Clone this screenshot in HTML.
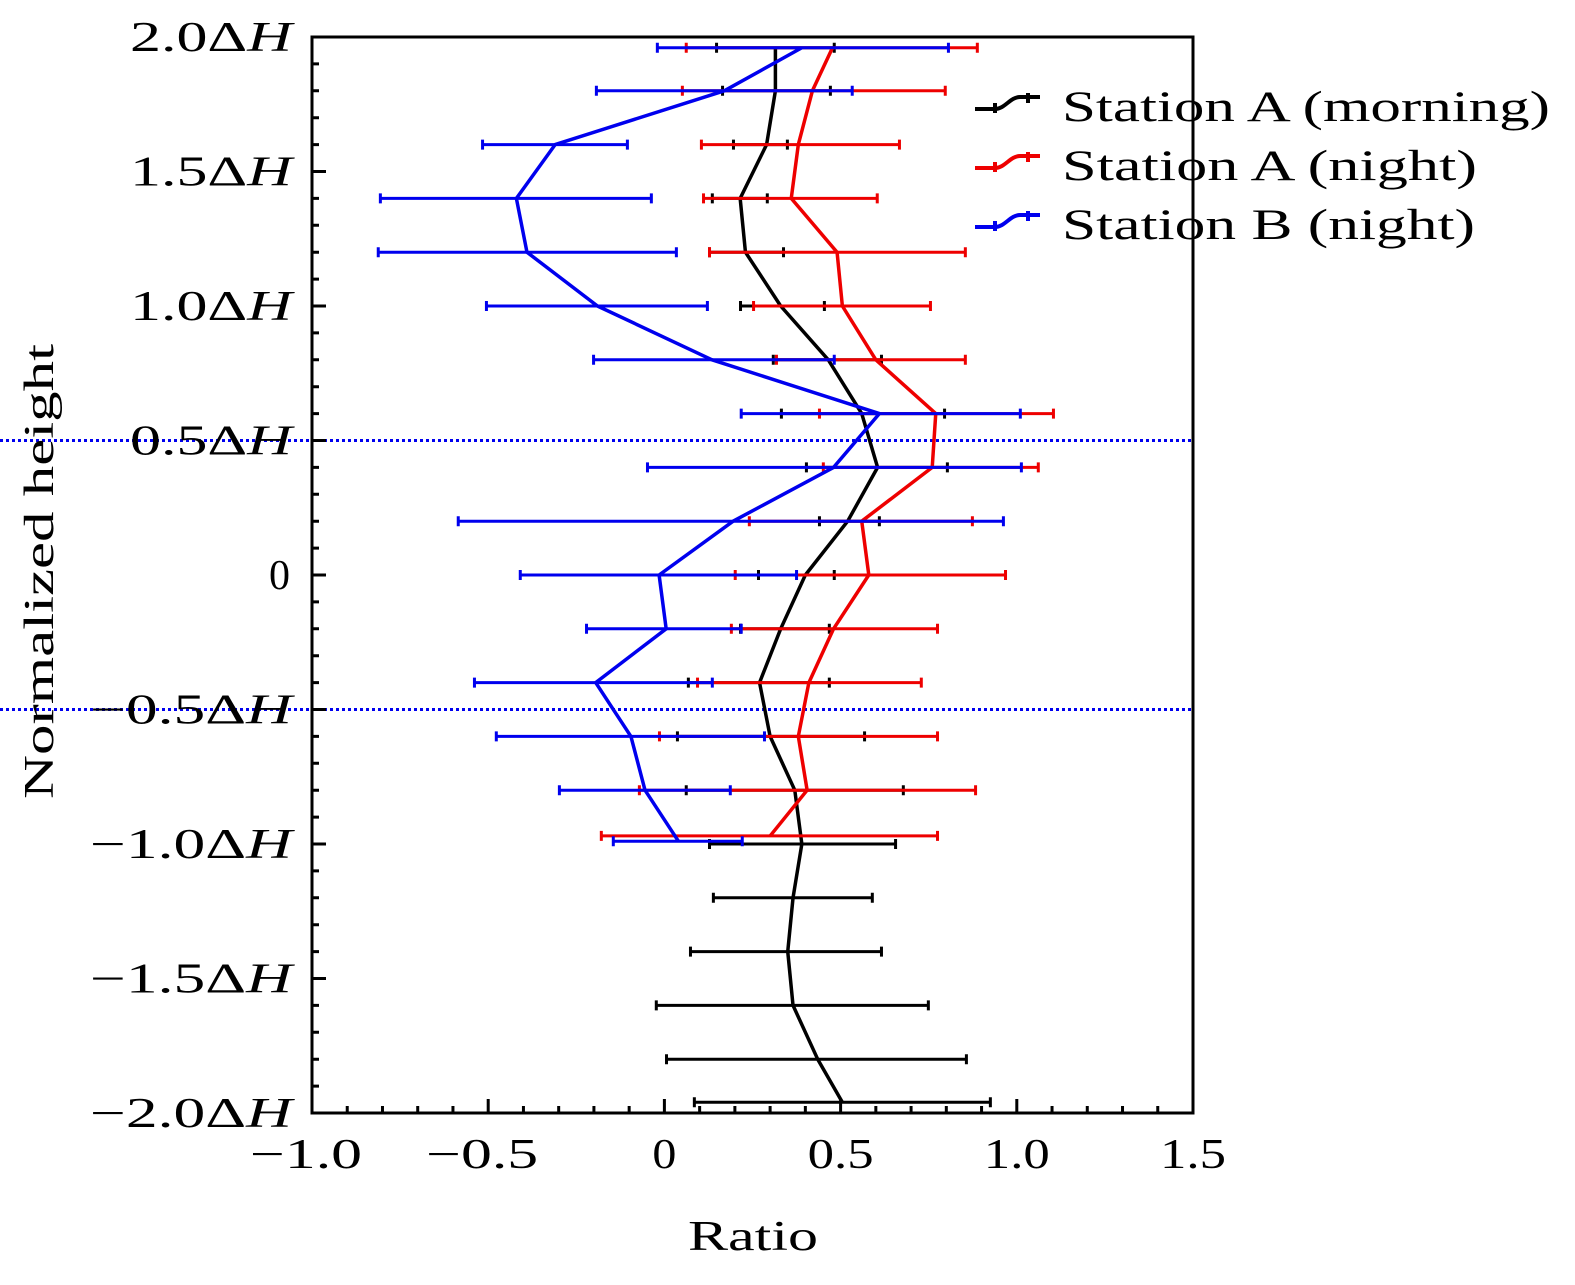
<!DOCTYPE html>
<html><head><meta charset="utf-8"><style>
body{margin:0;background:#fff}
svg text{font-family:"Liberation Serif",serif;}
</style></head><body>
<svg id="chart" width="1575" height="1280" viewBox="0 0 1575 1280" xmlns="http://www.w3.org/2000/svg">
<g id="grid"></g><g id="series"></g><g id="axes"></g><g id="legend"></g>
</svg>
<script>
const heights=[1.96,1.8,1.6,1.4,1.2,1.0,0.8,0.6,0.4,0.2,0,-0.2,-0.4,-0.6,-0.8,-1.0,-1.2,-1.4,-1.6,-1.8,-1.96];
const blackVals=[0.315,0.315,0.29,0.215,0.23,0.33,0.465,0.56,0.605,0.52,0.40,0.33,0.27,0.30,0.37,0.39,0.365,0.35,0.365,0.435,0.505];
const blackLo=[0.148,0.165,0.196,0.136,0.128,0.216,0.309,0.332,0.403,0.44,0.267,0.216,0.068,0.037,0.062,0.128,0.139,0.074,-0.023,0.006,0.085];
const blackHi=[0.482,0.471,0.349,0.292,0.338,0.454,0.616,0.795,0.803,0.61,0.482,0.468,0.468,0.568,0.678,0.656,0.59,0.616,0.749,0.857,0.925];
const redHeights=[1.96,1.8,1.6,1.4,1.2,1.0,0.8,0.6,0.4,0.2,0,-0.2,-0.4,-0.6,-0.8,-0.97];
const redVals=[0.477,0.42,0.38,0.36,0.49,0.505,0.6,0.77,0.76,0.56,0.58,0.48,0.41,0.38,0.405,0.30];
const redLo=[0.062,0.051,0.105,0.111,0.128,0.253,0.318,0.44,0.451,0.241,0.201,0.19,0.094,-0.014,-0.071,-0.179];
const redHi=[0.888,0.797,0.667,0.604,0.854,0.755,0.854,1.104,1.061,0.874,0.968,0.775,0.729,0.775,0.883,0.775];
const blueHeights=[1.96,1.8,1.6,1.4,1.2,1.0,0.8,0.6,0.4,0.2,0,-0.2,-0.4,-0.6,-0.8,-0.99];
const blueVals=[0.39,0.17,-0.31,-0.42,-0.39,-0.19,0.135,0.61,0.48,0.195,-0.015,0.005,-0.195,-0.095,-0.055,0.04];
const blueLo=[-0.02,-0.193,-0.516,-0.806,-0.812,-0.505,-0.201,0.218,-0.048,-0.585,-0.409,-0.221,-0.539,-0.477,-0.298,-0.145];
const blueHi=[0.806,0.533,-0.105,-0.037,0.034,0.122,0.482,1.01,1.013,0.962,0.375,0.218,0.136,0.284,0.187,0.221];
const xTickVals=[-1.0,-0.5,0,0.5,1.0,1.5];
const xTickLabels=["\u22121.0","\u22120.5","0","0.5","1.0","1.5"];
const yTickVals=[2,1.5,1,0.5,0,-0.5,-1,-1.5,-2];
const yTickLabels=["2.0\u0394","1.5\u0394","1.0\u0394","0.5\u0394","0","\u22120.5\u0394","\u22121.0\u0394","\u22121.5\u0394","\u22122.0\u0394"];

const L=312,R=1193,T=37,B=1113;
const X=v=>L+(v+1)/2.5*(R-L);
const Y=v=>T+(2-v)/4*(B-T);
const NS="http://www.w3.org/2000/svg";
function mk(tag,attrs,parent){const e=document.createElementNS(NS,tag);for(const k in attrs)e.setAttribute(k,attrs[k]);parent.appendChild(e);return e;}
const grid=document.getElementById('grid'),ser=document.getElementById('series'),ax=document.getElementById('axes'),lg=document.getElementById('legend');

[0.5,-0.5].forEach(v=>{const l=mk('line',{x1:0,x2:R,y1:Y(v),y2:Y(v),stroke:'#0000ee','stroke-width':3,'stroke-dasharray':'3,3'},grid);

});

function drawSeries(name,color,hs,vals,lo,hi){
  const g=mk('g',{},ser);
  
  
  hs.forEach((h,i)=>{const y=Y(h);
    const e=mk('path',{d:`M${X(lo[i])},${y}H${X(hi[i])}M${X(lo[i])},${y-5}V${y+5}M${X(hi[i])},${y-5}V${y+5}`,stroke:color,'stroke-width':3,fill:'none'},g);
    
    });
  const p=mk('polyline',{points:hs.map((h,i)=>X(vals[i])+','+Y(h)).join(' '),stroke:color,'stroke-width':3.5,fill:'none','stroke-linejoin':'round'},g);
  
  
}
drawSeries('station-a-morning','#000',heights,blackVals,blackLo,blackHi);
drawSeries('station-a-night','#ee0000',redHeights,redVals,redLo,redHi);
drawSeries('station-b-night','#0000ee',blueHeights,blueVals,blueLo,blueHi);

const frame=mk('rect',{x:L,y:T,width:R-L,height:B-T,fill:'none',stroke:'#000','stroke-width':3},ax);


let d='';
for(let i=0;i<=25;i++){const x=X(-1+i*0.1);const len=(i%5==0)?14:7;d+=`M${x},${B}V${B-len}`;}
for(let i=0;i<=40;i++){const y=Y(2-i*0.1);const len=(i%5==0)?14:7;d+=`M${L},${y}H${L+len}`;}
const ticks=mk('path',{d:d,stroke:'#000','stroke-width':3},ax);


xTickVals.forEach((v,i)=>{const lab=xTickLabels[i];const w=lab.length===1?24:(lab.length===3?66:112);
const t=mk('text',{x:X(v)-w/2-(lab.length===4?6:0),y:1168,'font-size':42,textLength:w,lengthAdjust:'spacingAndGlyphs'},ax);t.textContent=lab;

});
yTickVals.forEach((v,i)=>{
const lab=yTickLabels[i];
if(v===0){const t=mk('text',{x:290,y:Y(v)+14,'font-size':42,'text-anchor':'end'},ax);t.textContent='0';

return;}
const w=lab.length===4?162:202;
const t=mk('text',{x:292-w,y:Y(v)+14,'font-size':42,textLength:w,lengthAdjust:'spacingAndGlyphs'},ax);
t.textContent=lab;
const h=mk('tspan',{'font-style':'italic'},t);h.textContent='H';

});
const xt=mk('text',{x:688,y:1250,'font-size':42,textLength:130,lengthAdjust:'spacingAndGlyphs'},ax);xt.textContent='Ratio';


const yt=mk('text',{x:-227,y:0,'font-size':42,textLength:455,lengthAdjust:'spacingAndGlyphs',transform:'translate(53,572) rotate(-90)'},ax);yt.textContent='Normalized height';



[['Station A (morning)','#000',107,488],['Station A (night)','#ee0000',166,415],['Station B (night)','#0000ee',225,413]].forEach(([lab,c,y,w],i)=>{
  const g=mk('g',{},lg);
  
  
  mk('path',{d:`M975,${y+2}H995C1005,${y+2} 1010,${y-10} 1020,${y-10}H1040M995,${y-4}V${y+6}M1028,${y-14}V${y-4}`,stroke:c,'stroke-width':4,fill:'none'},g);
  const t=mk('text',{x:1062,y:y+14,'font-size':43,textLength:w,lengthAdjust:'spacingAndGlyphs'},g);t.textContent=lab;
});
</script>
</body></html>
